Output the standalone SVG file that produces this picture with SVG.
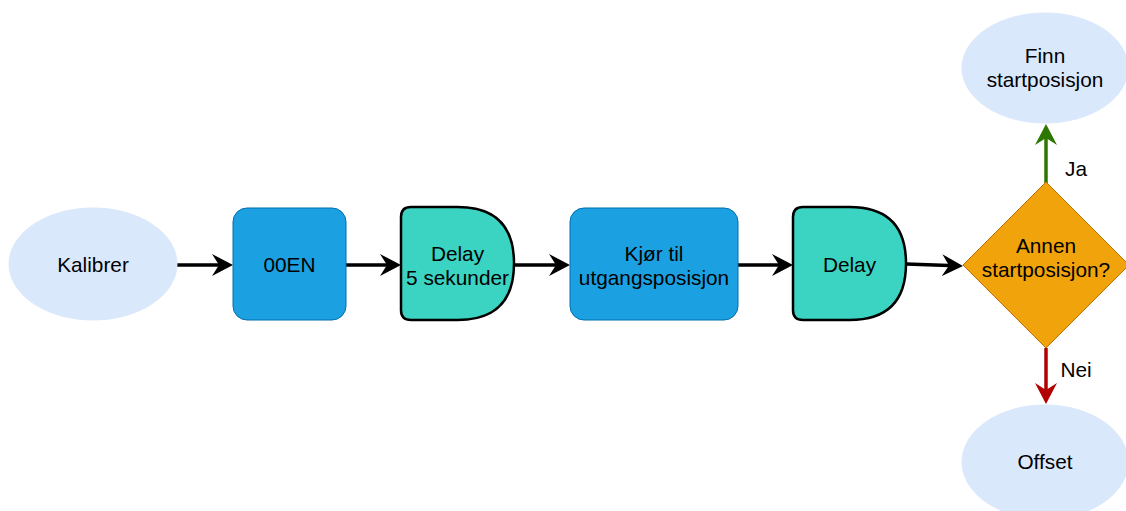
<svg xmlns="http://www.w3.org/2000/svg" width="1126" height="511" viewBox="0 0 1126 511">
<style>
text{font-family:"Liberation Sans",Arial,sans-serif;font-size:20.8px;fill:#000;text-anchor:middle}
.ell{fill:#dae8fc;stroke:#dae8fc}
.proc{fill:#1ba1e2;stroke:#006eaf;stroke-width:1}
.delay{fill:#3bd3c1;stroke:#000;stroke-width:2.5}
.dec{fill:#f0a30a;stroke:#bd7000;stroke-width:1}
.edge{fill:none;stroke:#000;stroke-width:3.5}
</style>
<defs>
<marker id="ab" viewBox="0 0 21 22" refX="7" refY="11" markerWidth="21" markerHeight="22" markerUnits="userSpaceOnUse" orient="auto"><path d="M0,0 L21,11 L0,22 L7,11 Z" fill="#000"/></marker>
<marker id="ag" viewBox="0 0 21 22" refX="7" refY="11" markerWidth="21" markerHeight="22" markerUnits="userSpaceOnUse" orient="auto"><path d="M0,0 L21,11 L0,22 L7,11 Z" fill="#2d7600"/></marker>
<marker id="ar" viewBox="0 0 21 22" refX="7" refY="11" markerWidth="21" markerHeight="22" markerUnits="userSpaceOnUse" orient="auto"><path d="M0,0 L21,11 L0,22 L7,11 Z" fill="#b20000"/></marker>
</defs>
<g id="connectors">
<path class="edge" d="M177,265 L219,265" marker-end="url(#ab)"/>
<path class="edge" d="M346,265 L387,265" marker-end="url(#ab)"/>
<path class="edge" d="M514,265 L556,265" marker-end="url(#ab)"/>
<path class="edge" d="M738,265 L779,265" marker-end="url(#ab)"/>
<path class="edge" d="M906,264 L949,265.5" marker-end="url(#ab)"/>
<path class="edge" d="M1046,183 L1046,138" style="stroke:#2d7600" marker-end="url(#ag)"/>
<path class="edge" d="M1046,348 L1046,390" style="stroke:#b20000" marker-end="url(#ar)"/>
<text x="1076" y="176">Ja</text>
<text x="1076" y="377">Nei</text>
</g>
<g id="kalibrer">
<ellipse class="ell" cx="93" cy="264" rx="84" ry="56"/>
<text x="93" y="272">Kalibrer</text>
</g>
<g id="ooen">
<rect class="proc" x="233" y="208" width="113" height="112" rx="14"/>
<text x="289.5" y="272">00EN</text>
</g>
<g id="delay1">
<path class="delay" d="M411,207 L457.5,207 Q514,207 514,263.5 Q514,320 457.5,320 L411,320 Q401,320 401,310 L401,217 Q401,207 411,207 Z"/>
<text x="457.5" y="261">Delay</text>
<text x="457.5" y="285">5 sekunder</text>
</g>
<g id="kjor">
<rect class="proc" x="570" y="208" width="168" height="112" rx="14"/>
<text x="654" y="261">Kjør til</text>
<text x="654" y="285">utgangsposisjon</text>
</g>
<g id="delay2">
<path class="delay" d="M803,207 L849.5,207 Q906,207 906,263.5 Q906,320 849.5,320 L803,320 Q793,320 793,310 L793,217 Q793,207 803,207 Z"/>
<text x="849.5" y="272">Delay</text>
</g>
<g id="beslutning">
<path class="dec" d="M1046,182 L1129,265 L1046,348 L963,265 Z"/>
<text x="1046" y="253">Annen</text>
<text x="1046" y="277">startposisjon?</text>
</g>
<g id="finn">
<ellipse class="ell" cx="1045" cy="68" rx="83" ry="55"/>
<text x="1045" y="63">Finn</text>
<text x="1045" y="87">startposisjon</text>
</g>
<g id="offset">
<ellipse class="ell" cx="1045" cy="462" rx="83" ry="57"/>
<text x="1045" y="469">Offset</text>
</g>
</svg>
